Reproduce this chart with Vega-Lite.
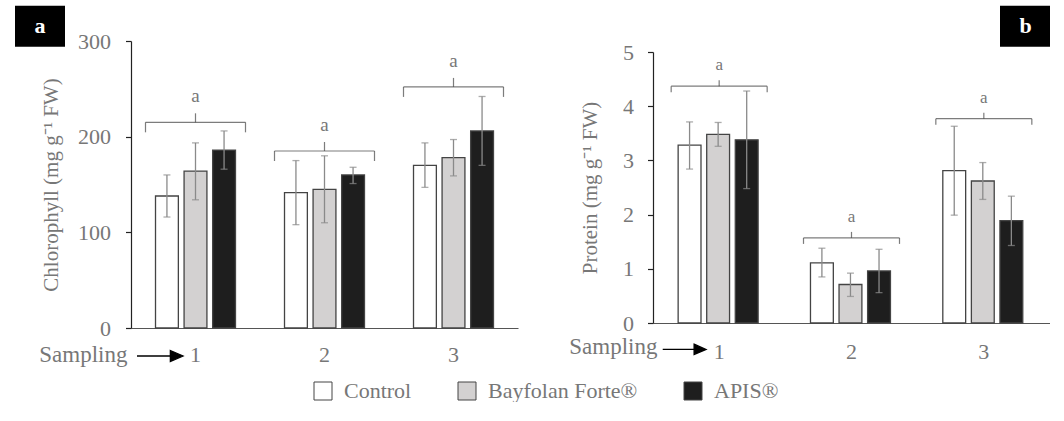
{
  "$schema": "https://vega.github.io/schema/vega-lite/v6.json",
  "padding": {"left": 15, "top": 1, "right": 0, "bottom": 0},
  "autosize": {"type": "pad"},
  "background": "white",
  "config": {
    "view": {"stroke": null},
    "font": "Liberation Serif",
    "axis": {"labelFont": "Liberation Serif", "titleFont": "Liberation Serif", "labelColor": "#777777", "titleColor": "#777777", "titleFontWeight": "normal", "grid": false}
  },
  "datasets": {
    "chl": [
      {"sampling": "1", "treatment": "Control", "value": 138, "lo": 116, "hi": 160},
      {"sampling": "1", "treatment": "Bayfolan Forte®", "value": 164, "lo": 134, "hi": 193.5},
      {"sampling": "1", "treatment": "APIS®", "value": 186, "lo": 166, "hi": 206},
      {"sampling": "2", "treatment": "Control", "value": 141.5, "lo": 108, "hi": 175},
      {"sampling": "2", "treatment": "Bayfolan Forte®", "value": 145, "lo": 110, "hi": 180},
      {"sampling": "2", "treatment": "APIS®", "value": 160, "lo": 151, "hi": 168},
      {"sampling": "3", "treatment": "Control", "value": 170, "lo": 147, "hi": 193.5},
      {"sampling": "3", "treatment": "Bayfolan Forte®", "value": 178, "lo": 159, "hi": 197},
      {"sampling": "3", "treatment": "APIS®", "value": 206, "lo": 170, "hi": 242}
    ],
    "prot": [
      {"sampling": "1", "treatment": "Control", "value": 3.28, "lo": 2.84, "hi": 3.71},
      {"sampling": "1", "treatment": "Bayfolan Forte®", "value": 3.48, "lo": 3.26, "hi": 3.70},
      {"sampling": "1", "treatment": "APIS®", "value": 3.38, "lo": 2.48, "hi": 4.28},
      {"sampling": "2", "treatment": "Control", "value": 1.11, "lo": 0.85, "hi": 1.38},
      {"sampling": "2", "treatment": "Bayfolan Forte®", "value": 0.71, "lo": 0.49, "hi": 0.92},
      {"sampling": "2", "treatment": "APIS®", "value": 0.96, "lo": 0.56, "hi": 1.36},
      {"sampling": "3", "treatment": "Control", "value": 2.81, "lo": 1.99, "hi": 3.63},
      {"sampling": "3", "treatment": "Bayfolan Forte®", "value": 2.62, "lo": 2.28, "hi": 2.96},
      {"sampling": "3", "treatment": "APIS®", "value": 1.89, "lo": 1.43, "hi": 2.34}
    ],
    "brA": [
      {"sampling": "1", "y": 215, "label": "a"},
      {"sampling": "2", "y": 185, "label": "a"},
      {"sampling": "3", "y": 252, "label": "a"}
    ],
    "brB": [
      {"sampling": "1", "y": 4.37, "label": "a"},
      {"sampling": "2", "y": 1.57, "label": "a"},
      {"sampling": "3", "y": 3.77, "label": "a"}
    ]
  },
  "hconcat": [
    {
      "width": 387,
      "height": 287,
      "layer": [
        {
          "data": {"name": "chl"},
          "mark": {"type": "bar", "stroke": "#444444", "strokeWidth": 1.3},
          "encoding": {
            "x": {"field": "sampling", "type": "nominal", "title": "Sampling",
              "scale": {"paddingInner": 0.38, "paddingOuter": 0.19},
              "axis": {"labelAngle": 0, "ticks": false, "tickSize": 0, "labelPadding": 16, "labelFontSize": 22, "domainColor": "#555555", "domainWidth": 1.2, "titleFontSize": 23, "titleX": -4, "titleY": 33.5, "titleAlign": "right", "titleBaseline": "alphabetic", "titleAnchor": "start"}},
            "xOffset": {"field": "treatment", "type": "nominal", "sort": ["Control", "Bayfolan Forte®", "APIS®"], "scale": {"paddingInner": 0.2, "paddingOuter": 0}},
            "y": {"field": "value", "type": "quantitative", "title": "Chlorophyll (mg g⁻¹ FW)",
              "scale": {"domain": [0, 300], "nice": false},
              "axis": {"values": [0, 100, 200, 300], "tickSize": 5.5, "tickColor": "#222222", "tickWidth": 1.2, "domainColor": "#222222", "domainWidth": 1.2, "labelPadding": 15, "labelFontSize": 22, "titleFontSize": 21, "titlePadding": 16}},
            "color": {"field": "treatment", "type": "nominal",
              "scale": {"domain": ["Control", "Bayfolan Forte®", "APIS®"], "range": ["#ffffff", "#d3d1d1", "#1e1e1e"]},
              "legend": {"orient": "none", "legendX": 181, "legendY": 339, "direction": "horizontal", "title": null, "symbolType": "square", "symbolSize": 324, "symbolStrokeWidth": 1, "symbolStrokeColor": "#444444", "labelFontSize": 22, "labelColor": "#777777", "labelFont": "Liberation Serif", "labelOffset": 10, "columnPadding": 44, "padding": 0, "labelLimit": 0}}
          }
        },
        {
          "data": {"name": "chl"},
          "mark": {"type": "rule", "color": "#8a8a8a", "strokeWidth": 1.3},
          "encoding": {
            "x": {"field": "sampling", "type": "nominal"},
            "xOffset": {"field": "treatment", "type": "nominal", "sort": ["Control", "Bayfolan Forte®", "APIS®"]},
            "y": {"field": "lo", "type": "quantitative"},
            "y2": {"field": "hi"}
          }
        },
        {
          "data": {"name": "chl"},
          "mark": {"type": "tick", "orient": "horizontal", "color": "#8a8a8a", "size": 7, "thickness": 1.3},
          "encoding": {
            "x": {"field": "sampling", "type": "nominal"},
            "xOffset": {"field": "treatment", "type": "nominal", "sort": ["Control", "Bayfolan Forte®", "APIS®"]},
            "y": {"field": "lo", "type": "quantitative"}
          }
        },
        {
          "data": {"name": "chl"},
          "mark": {"type": "tick", "orient": "horizontal", "color": "#8a8a8a", "size": 7, "thickness": 1.3},
          "encoding": {
            "x": {"field": "sampling", "type": "nominal"},
            "xOffset": {"field": "treatment", "type": "nominal", "sort": ["Control", "Bayfolan Forte®", "APIS®"]},
            "y": {"field": "hi", "type": "quantitative"}
          }
        },
        {
          "data": {"name": "brA"},
          "mark": {"type": "tick", "orient": "horizontal", "color": "#444444", "size": 100, "thickness": 1.2},
          "encoding": {"x": {"field": "sampling", "type": "nominal"}, "y": {"field": "y", "type": "quantitative"}}
        },
        {
          "data": {"name": "brA"},
          "mark": {"type": "tick", "orient": "vertical", "color": "#444444", "size": 10, "thickness": 1.2, "xOffset": -50, "yOffset": 5},
          "encoding": {"x": {"field": "sampling", "type": "nominal"}, "y": {"field": "y", "type": "quantitative"}}
        },
        {
          "data": {"name": "brA"},
          "mark": {"type": "tick", "orient": "vertical", "color": "#444444", "size": 10, "thickness": 1.2, "xOffset": 50, "yOffset": 5},
          "encoding": {"x": {"field": "sampling", "type": "nominal"}, "y": {"field": "y", "type": "quantitative"}}
        },
        {
          "data": {"name": "brA"},
          "mark": {"type": "tick", "orient": "vertical", "color": "#444444", "size": 9, "thickness": 1.2, "yOffset": -4.5},
          "encoding": {"x": {"field": "sampling", "type": "nominal"}, "y": {"field": "y", "type": "quantitative"}}
        },
        {
          "data": {"name": "brA"},
          "mark": {"type": "text", "dy": -26, "fontSize": 19, "color": "#777777", "font": "Liberation Serif", "baseline": "middle"},
          "encoding": {"x": {"field": "sampling", "type": "nominal"}, "y": {"field": "y", "type": "quantitative"}, "text": {"field": "label"}}
        },
        {
          "data": {"values": [{}]},
          "mark": {"type": "point", "shape": "M -1 0 L 0.55 0 M 0.45 -0.24 L 1 0 L 0.45 0.24 Z", "size": 2116, "filled": true, "fill": "#000000", "stroke": "#000000", "strokeWidth": 1.3, "opacity": 1, "xOffset": -35.5, "yOffset": 28},
          "encoding": {"x": {"datum": "1"}, "y": {"datum": 0}}
        },
        {
          "data": {"values": [{"panel": "a"}]},
          "mark": {"type": "point", "filled": true, "color": "#000000", "size": 0, "opacity": 1},
          "encoding": {
            "shape": {"field": "panel", "type": "nominal",
              "scale": {"domain": ["a", "b"], "range": ["M -1 -0.82 L 1 -0.82 L 1 0.82 L -1 0.82 Z", "M -1 -0.82 L 1 -0.82 L 1 0.82 L -1 0.82 Z"]},
              "legend": {"orient": "none", "legendX": -116, "legendY": -40, "direction": "horizontal", "title": null, "symbolSize": 2500, "symbolFillColor": "#000000", "symbolStrokeColor": "#000000", "symbolStrokeWidth": 0, "symbolOpacity": 1, "labelOffset": -30.5, "labelColor": "#ffffff", "labelFontSize": 22, "labelFontWeight": "bold", "labelFont": "Liberation Serif", "columnPadding": 935, "padding": 0, "labelBaseline": "middle"}}
          }
        }
      ]
    },
    {
      "vconcat": [
        {"width": 1, "height": 1, "data": {"values": [{}]}, "mark": {"type": "point", "size": 0, "opacity": 0}},
        {
          "width": 397,
          "height": 271,
          "layer": [
            {
              "data": {"name": "prot"},
              "mark": {"type": "bar", "stroke": "#444444", "strokeWidth": 1.3},
              "encoding": {
                "x": {"field": "sampling", "type": "nominal", "title": "Sampling",
                  "scale": {"paddingInner": 0.38, "paddingOuter": 0.19},
                  "axis": {"labelAngle": 0, "ticks": false, "tickSize": 0, "labelPadding": 18, "labelFontSize": 22, "domainColor": "#555555", "domainWidth": 1.2, "titleFontSize": 23, "titleX": 4, "titleY": 30.7, "titleAlign": "right", "titleBaseline": "alphabetic", "titleAnchor": "start"}},
                "xOffset": {"field": "treatment", "type": "nominal", "sort": ["Control", "Bayfolan Forte®", "APIS®"], "scale": {"paddingInner": 0.2, "paddingOuter": 0}},
                "y": {"field": "value", "type": "quantitative", "title": "Protein (mg g⁻¹ FW)",
                  "scale": {"domain": [0, 5], "nice": false},
                  "axis": {"values": [0, 1, 2, 3, 4, 5], "tickSize": 5.5, "tickColor": "#222222", "tickWidth": 1.2, "domainColor": "#222222", "domainWidth": 1.2, "labelPadding": 14, "labelFontSize": 22, "titleFontSize": 21, "titlePadding": 22}},
                "color": {"field": "treatment", "type": "nominal",
                  "scale": {"domain": ["Control", "Bayfolan Forte®", "APIS®"], "range": ["#ffffff", "#d3d1d1", "#1e1e1e"]},
                  "legend": {"orient": "none", "legendX": 181, "legendY": 339, "direction": "horizontal", "title": null, "symbolType": "square", "symbolSize": 324, "symbolStrokeWidth": 1, "symbolStrokeColor": "#444444", "labelFontSize": 22, "labelColor": "#777777", "labelFont": "Liberation Serif", "labelOffset": 10, "columnPadding": 44, "padding": 0, "labelLimit": 0}}
              }
            },
            {
              "data": {"name": "prot"},
              "mark": {"type": "rule", "color": "#8a8a8a", "strokeWidth": 1.3},
              "encoding": {
                "x": {"field": "sampling", "type": "nominal"},
                "xOffset": {"field": "treatment", "type": "nominal", "sort": ["Control", "Bayfolan Forte®", "APIS®"]},
                "y": {"field": "lo", "type": "quantitative"},
                "y2": {"field": "hi"}
              }
            },
            {
              "data": {"name": "prot"},
              "mark": {"type": "tick", "orient": "horizontal", "color": "#8a8a8a", "size": 7, "thickness": 1.3},
              "encoding": {
                "x": {"field": "sampling", "type": "nominal"},
                "xOffset": {"field": "treatment", "type": "nominal", "sort": ["Control", "Bayfolan Forte®", "APIS®"]},
                "y": {"field": "lo", "type": "quantitative"}
              }
            },
            {
              "data": {"name": "prot"},
              "mark": {"type": "tick", "orient": "horizontal", "color": "#8a8a8a", "size": 7, "thickness": 1.3},
              "encoding": {
                "x": {"field": "sampling", "type": "nominal"},
                "xOffset": {"field": "treatment", "type": "nominal", "sort": ["Control", "Bayfolan Forte®", "APIS®"]},
                "y": {"field": "hi", "type": "quantitative"}
              }
            },
            {
              "data": {"name": "brB"},
              "mark": {"type": "tick", "orient": "horizontal", "color": "#444444", "size": 96, "thickness": 1.2},
              "encoding": {"x": {"field": "sampling", "type": "nominal"}, "y": {"field": "y", "type": "quantitative"}}
            },
            {
              "data": {"name": "brB"},
              "mark": {"type": "tick", "orient": "vertical", "color": "#444444", "size": 6, "thickness": 1.2, "xOffset": -48, "yOffset": 3},
              "encoding": {"x": {"field": "sampling", "type": "nominal"}, "y": {"field": "y", "type": "quantitative"}}
            },
            {
              "data": {"name": "brB"},
              "mark": {"type": "tick", "orient": "vertical", "color": "#444444", "size": 6, "thickness": 1.2, "xOffset": 48, "yOffset": 3},
              "encoding": {"x": {"field": "sampling", "type": "nominal"}, "y": {"field": "y", "type": "quantitative"}}
            },
            {
              "data": {"name": "brB"},
              "mark": {"type": "tick", "orient": "vertical", "color": "#444444", "size": 6, "thickness": 1.2, "yOffset": -3},
              "encoding": {"x": {"field": "sampling", "type": "nominal"}, "y": {"field": "y", "type": "quantitative"}}
            },
            {
              "data": {"name": "brB"},
              "mark": {"type": "text", "dy": -21, "fontSize": 17, "color": "#777777", "font": "Liberation Serif", "baseline": "middle"},
              "encoding": {"x": {"field": "sampling", "type": "nominal"}, "y": {"field": "y", "type": "quantitative"}, "text": {"field": "label"}}
            },
            {
              "data": {"values": [{}]},
              "mark": {"type": "point", "shape": "M -1 0 L 0.55 0 M 0.45 -0.24 L 1 0 L 0.45 0.24 Z", "size": 1875, "filled": true, "fill": "#000000", "stroke": "#000000", "strokeWidth": 1.3, "opacity": 1, "xOffset": -34.8, "yOffset": 26.4},
              "encoding": {"x": {"datum": "1"}, "y": {"datum": 0}}
            },
            {
              "data": {"values": [{"panel": "b"}]},
              "mark": {"type": "point", "filled": true, "color": "#000000", "size": 0, "opacity": 1},
              "encoding": {
                "shape": {"field": "panel", "type": "nominal",
                  "scale": {"domain": ["a", "b"], "range": ["M -1 -0.82 L 1 -0.82 L 1 0.82 L -1 0.82 Z", "M -1 -0.82 L 1 -0.82 L 1 0.82 L -1 0.82 Z"]},
                  "legend": {"orient": "none", "legendX": -116, "legendY": -40, "direction": "horizontal", "title": null, "symbolSize": 2500, "symbolFillColor": "#000000", "symbolStrokeColor": "#000000", "symbolStrokeWidth": 0, "symbolOpacity": 1, "labelOffset": -30.5, "labelColor": "#ffffff", "labelFontSize": 22, "labelFontWeight": "bold", "labelFont": "Liberation Serif", "columnPadding": 935, "padding": 0, "labelBaseline": "middle"}}
              }
            }
          ]
        }
      ],
      "spacing": -1
    }
  ],
  "spacing": 50
}
